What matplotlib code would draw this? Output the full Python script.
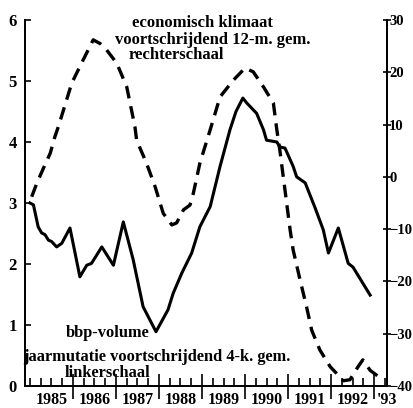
import matplotlib
matplotlib.use('Agg')
import matplotlib.pyplot as plt
import numpy as np

# bbp-volume, jaarmutatie (linkerschaal)
bbp_jaar = [1985.00, 1985.08, 1985.19, 1985.27, 1985.35, 1985.43, 1985.50, 1985.62, 1985.74,
            1985.93, 1986.16, 1986.32, 1986.43, 1986.67, 1986.94, 1987.17, 1987.40, 1987.63,
            1987.93, 1988.21, 1988.33, 1988.53, 1988.76, 1988.95, 1989.19, 1989.42, 1989.65,
            1989.79, 1989.95, 1990.04, 1990.27, 1990.43, 1990.50, 1990.74, 1990.81, 1990.93,
            1991.12, 1991.20, 1991.40, 1991.63, 1991.82, 1991.94, 1992.17, 1992.40, 1992.51,
            1992.91]
bbp = [3.00, 2.97, 2.61, 2.51, 2.48, 2.39, 2.37, 2.28, 2.34,
       2.59, 1.79, 1.98, 2.01, 2.28, 1.98, 2.69, 2.07, 1.30,
       0.89, 1.25, 1.52, 1.85, 2.18, 2.61, 2.94, 3.60, 4.20,
       4.50, 4.72, 4.64, 4.47, 4.20, 4.03, 4.00, 3.92, 3.90,
       3.60, 3.43, 3.33, 2.92, 2.56, 2.18, 2.59, 2.01, 1.95,
       1.49]

# economisch klimaat (rechterschaal)
klimaat_jaar = [1985.04, 1985.16, 1985.31, 1985.47, 1985.58, 1985.66, 1985.97, 1986.16, 1986.47,
                1986.63, 1986.78, 1987.02, 1987.25, 1987.44, 1987.48, 1987.71, 1987.91, 1988.10,
                1988.30, 1988.41, 1988.57, 1988.72, 1988.80, 1988.95, 1989.19, 1989.26, 1989.42,
                1989.73, 1990.00, 1990.19, 1990.43, 1990.66, 1990.74, 1990.81, 1990.89, 1990.97,
                1991.05, 1991.12, 1991.28, 1991.43, 1991.55, 1991.74, 1991.98, 1992.13, 1992.28,
                1992.44, 1992.63, 1992.74, 1992.91, 1993.12]
klimaat = [-3.8, -1.2, 1.6, 4.5, 7.7, 9.6, 17.9, 21.1, 26.2,
           25.5, 24.3, 21.7, 17.2, 9.6, 7.0, 2.6, -1.9, -7.0,
           -9.2, -8.8, -6.3, -5.4, -3.1, 2.6, 9.0, 10.9, 15.3,
           18.5, 20.8, 20.1, 17.2, 14.1, 9.0, 5.1, 0.0, -5.1,
           -10.2, -14.0, -19.7, -24.8, -29.3, -33.1, -36.3, -37.6, -39.0,
           -38.8, -36.3, -35.0, -37.0, -38.3]

jaar_labels = ['1985', '1986', '1987', '1988', '1989', '1990', '1991', '1992', "'93"]

plt.rcParams['font.family'] = 'Liberation Serif'
plt.rcParams['font.weight'] = 'bold'

fig = plt.figure(figsize=(4.13, 4.08), dpi=100)
ax = fig.add_axes([25/413, 22/408, 362/413, 366/408])
ax2 = ax.twinx()

ax.plot(bbp_jaar, bbp, color='black', lw=2.2)
ax2.plot(klimaat_jaar, klimaat, color='black', lw=2.4, dashes=(3.8, 2.4))

ax.set_xlim(1984.884, 1993.302)
ax.set_ylim(0, 6)
ax2.set_ylim(-40, 30)

ax.spines['top'].set_visible(False)
ax2.spines['top'].set_visible(False)
for s in ['left', 'right', 'bottom']:
    ax2.spines[s].set_linewidth(1.3)
    ax.spines[s].set_linewidth(1.3)

ax.set_yticks(range(0, 7))
ax.tick_params(axis='y', direction='in', length=4, width=1.2, labelsize=12, pad=6)
ax2.set_yticks(range(-40, 31, 10))
ax2.tick_params(axis='y', direction='inout', length=6, width=1.2, labelsize=10.5, pad=-1.5)

jaren = np.arange(1986, 1994)
ax.set_xticks(jaren, [''] * len(jaren))
ax.set_xticks(np.arange(1985.0, 1993.3, 0.25), minor=True)
ax.tick_params(axis='x', which='major', direction='inout', length=18, width=1.2)
ax.tick_params(axis='x', which='minor', direction='in', length=6, width=1.2)

trans = ax.get_xaxis_transform()
for i, lab in enumerate(jaar_labels):
    xpos = 1985.5 + i if i < 8 else 1993.3
    ax.text(xpos, -0.016, lab, transform=trans, ha='center', va='top', fontsize=11.5, fontweight='bold')

ax.text(1989.0, 5.95, 'economisch klimaat', ha='center', va='center', fontsize=12)
ax.text(1989.25, 5.67, 'voortschrijdend 12-m. gem.', ha='center', va='center', fontsize=12)
ax.text(1988.4, 5.43, 'rechterschaal', ha='center', va='center', fontsize=12)

ax.text(1986.8, 0.87, 'bbp-volume', ha='center', va='center', fontsize=11.8)
ax.text(1987.95, 0.48, 'jaarmutatie voortschrijdend 4-k. gem.', ha='center', va='center', fontsize=11.8)
ax.text(1986.8, 0.22, 'linkerschaal', ha='center', va='center', fontsize=11.8)

fig.savefig('out.png', dpi=100)
